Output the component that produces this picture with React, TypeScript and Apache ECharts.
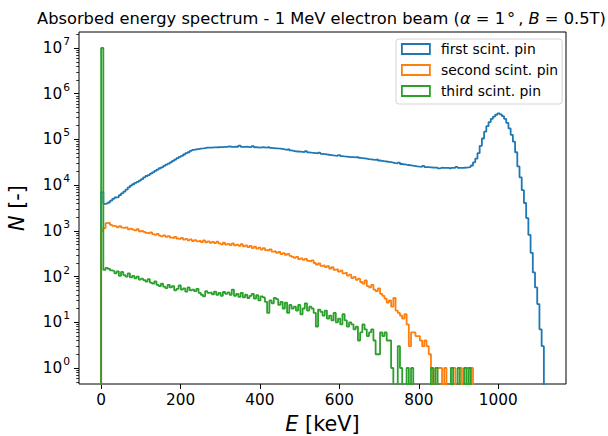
import React, { useEffect, useRef } from 'react';
import * as echarts from 'echarts';

const FONT = 'DejaVu Sans';
const BIN_WIDTH = 5.575; // keV per histogram bin (200 bins, 0 - 1115 keV)

const seriesNames = ['first scint. pin', 'second scint. pin', 'third scint. pin'];
const seriesColors = ['#1f77b4', '#ff7f0e', '#2ca02c'];

// counts per bin
const firstPin = [
  7000, 3900, 3980, 4170, 4570, 5010, 5370, 5500, 6030, 6610,
  7240, 7940, 8910, 9770, 10470, 11220, 11750, 12590, 13490, 14790,
  15850, 16600, 17780, 19050, 20420, 21880, 23440, 24550, 26300, 28180,
  29510, 31620, 33880, 36310, 38900, 41690, 43650, 46770, 50120, 52480,
  56230, 58880, 60260, 61660, 63100, 63500, 64570, 66070, 66000, 66500,
  67000, 66800, 67500, 68000, 67700, 68500, 69000, 70500, 69200, 68800,
  69500, 68900, 73500, 69000, 68500, 69300, 68000, 67800, 71500, 67500,
  67000, 66500, 67600, 67000, 66300, 68500, 65200, 64600, 64000, 63500,
  63100, 61800, 60500, 59500, 61500, 57800, 56500, 55000, 54500, 54000,
  53500, 53000, 55500, 52000, 51300, 50800, 50200, 49500, 51500, 48500,
  47800, 47000, 46200, 45500, 44700, 44300, 43800, 45500, 43000, 42500,
  42100, 41700, 41200, 40800, 40400, 41800, 39700, 39200, 38600, 38000,
  37150, 36700, 36200, 35600, 36800, 34600, 34000, 33400, 32900, 32300,
  31700, 31100, 30200, 29800, 31200, 29000, 28500, 28000, 27600, 27100,
  26600, 26200, 25700, 25400, 25200, 26400, 24900, 24700, 24500, 24300,
  24200, 24100, 23200, 24000, 23900, 23900, 23800, 23000, 23900, 23900,
  25000, 23800, 23900, 24000, 24200, 24600, 25120, 26920, 31620, 38020,
  50120, 72440, 104700, 147900, 195000, 239900, 281800, 316200, 346700, 371500,
  354800, 323600, 281800, 229100, 173800, 125900, 89130, 52480, 25700, 14790,
  7760, 4070, 1905, 813, 331, 123, 58, 25, 7, 3,
];

const secondPin = [
  1000, 1150, 1480, 1510, 1350, 1290, 1260, 1200, 1270, 1180,
  1140, 1190, 1080, 1120, 1060, 1020, 1090, 980, 1010, 950,
  900, 880, 930, 850, 820, 860, 790, 760, 800, 740,
  770, 710, 690, 740, 680, 660, 700, 640, 670, 620,
  650, 600, 630, 590, 610, 570, 620, 560, 590, 550,
  570, 540, 580, 530, 510, 550, 500, 520, 490, 530,
  480, 500, 470, 510, 460, 480, 440, 470, 420, 450,
  410, 430, 390, 420, 380, 370, 395, 350, 360, 330,
  345, 310, 325, 300, 315, 285, 270, 258, 270, 240,
  250, 232, 245, 220, 214, 225, 198, 182, 195, 172,
  176, 162, 168, 150, 160, 141, 145, 128, 135, 118,
  122, 105, 110, 93, 98, 85, 90, 76, 70, 82,
  62, 58, 66, 52, 48, 55, 42, 38, 33, 27,
  30, 22, 34, 18, 16, 14, 12, 15, 9, 3,
  6, 6, 5, 5, 4, 3, 4, 3, 2, 1,
  0, 1, 1, 1, 0, 1, 0, 0, 1, 1,
  0, 0, 1, 0, 1, 1, 0, 1, 0, 0,
  0, 0, 0, 0, 0, 0, 0, 0, 0, 0,
  0, 0, 0, 0, 0, 0, 0, 0, 0, 0,
  0, 0, 0, 0, 0, 0, 0, 0, 0, 0,
];

const thirdPin = [
  10000000, 140, 155, 148, 136, 132, 118, 130, 104, 126,
  108, 100, 118, 96, 104, 92, 100, 86, 90, 84,
  78, 88, 74, 70, 78, 66, 62, 70, 60, 56,
  66, 58, 62, 50, 54, 64, 52, 55, 47, 58,
  50, 52, 48, 54, 44, 40, 37, 48, 44, 45,
  41, 47, 40, 44, 38, 46, 42, 45, 40, 52,
  38, 42, 36, 44, 35, 40, 34, 38, 42, 33,
  39, 30, 37, 35, 28, 16, 30, 26, 34, 32,
  24, 28, 20, 27, 16, 24, 20, 22, 18, 24,
  15, 20, 26, 18, 22, 20, 16, 8, 19, 17,
  14, 18, 12, 14, 11, 16, 10, 12, 9, 15,
  11, 8, 10, 9, 7, 8, 4, 6, 9, 7,
  5, 6, 7, 4, 2, 2, 6, 5, 6, 4,
  4, 1, 0, 0, 3, 1, 0, 0, 1, 0,
  1, 0, 0, 0, 0, 0, 0, 0, 0, 1,
  0, 1, 0, 0, 0, 0, 0, 0, 1, 0,
  0, 1, 0, 0, 1, 0, 1, 0, 0, 0,
  0, 0, 0, 0, 0, 0, 0, 0, 0, 0,
  0, 0, 0, 0, 0, 0, 0, 0, 0, 0,
  0, 0, 0, 0, 0, 0, 0, 0, 0, 0,
];

const xTickValues = [0, 200, 400, 600, 800, 1000];
const yDecadeExponents = [0, 1, 2, 3, 4, 5, 6, 7];
const minorMultipliers = [2, 3, 4, 5, 6, 7, 8, 9];

const X_MIN = -55.75;
const X_MAX = 1170.75;
const Y_MIN = -0.35; // log10 of axis bottom
const Y_MAX = 7.35; // log10 of axis top
const FLOOR = -10; // where empty bins are sent (clipped, as on a log axis)

function stepPoints(counts: number[]): number[][] {
  const pts: number[][] = [[0, FLOOR]];
  counts.forEach((c, i) => {
    pts.push([i * BIN_WIDTH, c > 0 ? Math.log10(c) : FLOOR]);
  });
  pts.push([counts.length * BIN_WIDTH, FLOOR]);
  return pts;
}

function minorLogTicks(): number[] {
  const out: number[] = [];
  for (let e = -1; e <= 7; e++) {
    minorMultipliers.forEach((m) => {
      const v = e + Math.log10(m);
      if (v > Y_MIN && v < Y_MAX) out.push(v);
    });
  }
  return out;
}

export default function App() {
  const ref = useRef<HTMLDivElement>(null);

  useEffect(() => {
    if (!ref.current) return;
    const chart = echarts.init(ref.current, undefined, { renderer: 'svg' });
    const dataSets = [firstPin, secondPin, thirdPin];

    chart.setOption({
      animation: false,
      backgroundColor: '#ffffff',
      title: {
        text: 'Absorbed energy spectrum - 1 MeV electron beam ({i|α} = 1{s|°}, {i|B} = 0.5T)',
        left: 37,
        top: 9,
        padding: 0,
        textStyle: {
          fontFamily: FONT,
          fontSize: 16.3,
          fontWeight: 'normal',
          color: '#000',
          lineHeight: 18,
          rich: {
            i: { fontFamily: FONT, fontSize: 16.3, fontStyle: 'italic', color: '#000', lineHeight: 18 },
            s: { fontFamily: FONT, fontSize: 16.3, color: '#000', lineHeight: 18, padding: [0, 3, 0, 2] },
          },
        },
      },
      legend: {
        orient: 'vertical',
        left: 396,
        top: 39,
        padding: [3, 4, 6, 5],
        itemWidth: 28,
        itemHeight: 10,
        itemGap: 7,
        selectedMode: false,
        backgroundColor: '#ffffff',
        borderColor: '#d4d4d4',
        borderWidth: 1,
        borderRadius: 3,
        textStyle: {
          fontFamily: FONT,
          fontSize: 13.9,
          color: '#000',
          lineHeight: 14,
          padding: [0, 0, 0, 6],
        },
        data: seriesNames.map((n, k) => ({
          name: n,
          icon: 'rect',
          itemStyle: { color: '#ffffff', borderColor: seriesColors[k], borderWidth: 1.8 },
        })),
      },
      grid: {
        left: 79,
        right: 42,
        top: 32,
        bottom: 52,
        show: true,
        borderColor: '#000',
        borderWidth: 1,
        backgroundColor: 'transparent',
        containLabel: false,
        outerBoundsMode: 'none',
      },
      xAxis: {
        type: 'value',
        min: X_MIN,
        max: X_MAX,
        axisLine: { show: false, onZero: false },
        axisTick: {
          show: true,
          customValues: xTickValues,
          length: 5,
          lineStyle: { color: '#000', width: 1 },
        },
        axisLabel: {
          customValues: xTickValues,
          margin: 8,
          color: '#000',
          fontFamily: FONT,
          fontSize: 15.3,
          formatter: (v: number) => String(Math.round(v)),
        },
        splitLine: { show: false },
        name: '{i|E} [keV]',
        nameLocation: 'middle',
        nameGap: 21,
        nameTextStyle: {
          fontFamily: FONT,
          fontSize: 20.8,
          color: '#000',
          lineHeight: 24,
          rich: { i: { fontFamily: FONT, fontSize: 20.8, fontStyle: 'italic', color: '#000', lineHeight: 24 } },
        },
      },
      yAxis: [
        {
          type: 'value',
          min: Y_MIN,
          max: Y_MAX,
          axisLine: { show: false, onZero: false },
          axisTick: {
            show: true,
            customValues: yDecadeExponents,
            length: 5,
            lineStyle: { color: '#000', width: 1 },
          },
          axisLabel: {
            customValues: yDecadeExponents,
            margin: 9,
            formatter: (v: number) => `{b|10}{s|${Math.round(v)}}`,
            rich: {
              b: { fontFamily: FONT, fontSize: 15.3, color: '#000', lineHeight: 24 },
              s: { fontFamily: FONT, fontSize: 10.7, color: '#000', lineHeight: 11, verticalAlign: 'top', padding: [0, 0, 0, 1] },
            },
          },
          splitLine: { show: false },
          name: '{i|N} [-]',
          nameLocation: 'middle',
          nameGap: 50,
          nameTextStyle: {
            fontFamily: FONT,
            fontSize: 20.8,
            color: '#000',
            lineHeight: 24,
            rich: { i: { fontFamily: FONT, fontSize: 20.8, fontStyle: 'italic', color: '#000', lineHeight: 24 } },
          },
        },
        {
          type: 'value',
          min: Y_MIN,
          max: Y_MAX,
          position: 'left',
          axisLine: { show: false, onZero: false },
          axisTick: {
            show: true,
            customValues: minorLogTicks(),
            length: 2.8,
            lineStyle: { color: '#000', width: 0.8 },
          },
          axisLabel: { show: false },
          splitLine: { show: false },
        },
      ],
      series: dataSets.map((counts, k) => ({
        type: 'line',
        name: seriesNames[k],
        data: stepPoints(counts),
        step: 'end',
        showSymbol: false,
        symbol: 'none',
        clip: true,
        silent: true,
        yAxisIndex: 0,
        lineStyle: { color: seriesColors[k], width: 1.8 },
        itemStyle: { color: seriesColors[k] },
        z: 2 + k,
      })),
    });

    return () => chart.dispose();
  }, []);

  return (
    <div
      ref={ref}
      style={{ position: 'fixed', left: 0, top: 0, width: 608, height: 436, background: '#fff' }}
    />
  );
}
